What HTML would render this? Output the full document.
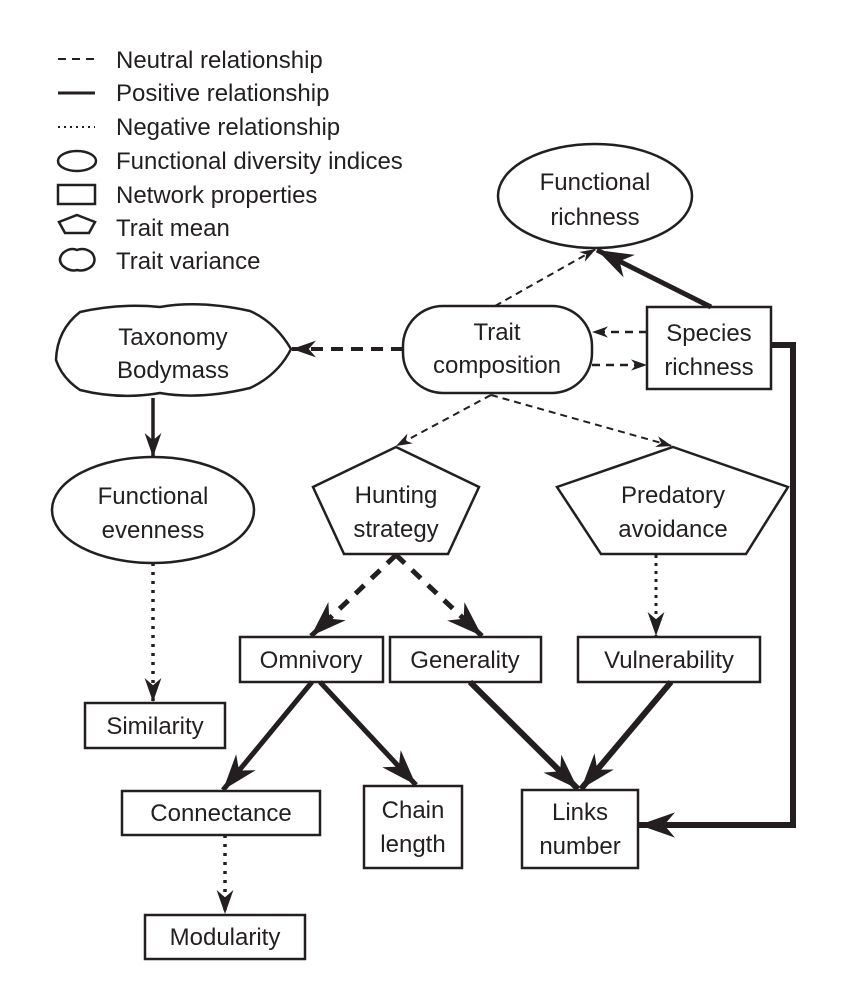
<!DOCTYPE html>
<html><head><meta charset="utf-8"><style>
html,body{margin:0;padding:0;background:#fff}
svg{display:block}
text{font-family:"Liberation Sans",Arial,sans-serif;font-size:24px;fill:#231f20}
</style></head><body>
<svg width="850" height="992" viewBox="0 0 850 992" xmlns="http://www.w3.org/2000/svg">
<defs>
<marker id="s" viewBox="0 0 20 14" refX="20" refY="7" markerWidth="16" markerHeight="12" markerUnits="userSpaceOnUse" orient="auto"><path d="M0,0 L20,7 L0,14 L6,7 z" fill="#231f20"/></marker>
<marker id="m" viewBox="0 0 20 14" refX="20" refY="7" markerWidth="24" markerHeight="20" markerUnits="userSpaceOnUse" orient="auto"><path d="M0,0 L20,7 L0,14 L6,7 z" fill="#231f20"/></marker>
<marker id="b" viewBox="0 0 20 14" refX="20" refY="7" markerWidth="36" markerHeight="30" markerUnits="userSpaceOnUse" orient="auto"><path d="M0,0 L20,7 L0,14 L6,7 z" fill="#231f20"/></marker>
</defs>
<g stroke="#231f20" fill="none">
<line x1="58" y1="59" x2="95" y2="59" stroke-width="2" stroke-dasharray="8,6"/>
<line x1="58" y1="93" x2="95" y2="93" stroke-width="3"/>
<line x1="58" y1="127" x2="95" y2="127" stroke-width="2" stroke-dasharray="2,4"/>
<ellipse cx="77" cy="161" rx="19" ry="10" stroke-width="2.5"/>
<rect x="58" y="185" width="37" height="19" stroke-width="2.5"/>
<path d="M77,215 L95,222 L89,233 L65,233 L59,222 z" stroke-width="2.5"/>
<path d="M63,253 Q70,247 77,250 Q85,247 92,253 Q97,260 92,266 Q85,272 77,270 Q70,272 63,266 Q57,260 63,253 z" stroke-width="2.5"/>

<ellipse cx="595" cy="196" rx="97" ry="52" stroke-width="2.5"/>
<rect x="403" y="306" width="189" height="87" rx="40" stroke-width="2.5"/>
<rect x="647" y="307" width="124" height="82" stroke-width="2.5"/>
<path d="M80,312 Q120,303 160,307 Q200,300 250,311 Q275,322 291,349 Q278,375 250,388 Q200,400 160,393 Q120,400 80,390 Q62,378 56,360 Q57,330 80,312 z" stroke-width="2.5"/>
<ellipse cx="153" cy="510" rx="101" ry="53" stroke-width="2.5"/>
<path d="M396,447 L479,487 L448,554 L344,554 L313,487 z" stroke-width="2.5"/>
<path d="M673,447 L788,487 L746,554 L601,554 L557,487 z" stroke-width="2.5"/>
<rect x="240" y="637" width="143" height="45" stroke-width="2.5"/>
<rect x="390" y="637" width="151" height="45" stroke-width="2.5"/>
<rect x="578" y="637" width="182" height="45" stroke-width="2.5"/>
<rect x="85" y="703" width="140" height="45" stroke-width="2.5"/>
<rect x="122" y="791" width="198" height="44" stroke-width="2.5"/>
<rect x="364" y="786" width="98" height="82" stroke-width="2.5"/>
<rect x="522" y="790" width="116" height="78" stroke-width="2.5"/>
<rect x="145" y="915" width="160" height="44" stroke-width="2.5"/>

<line x1="495" y1="306" x2="596" y2="249" stroke-width="2" stroke-dasharray="7,5" marker-end="url(#s)"/>
<line x1="711" y1="307" x2="597" y2="250" stroke-width="5" marker-end="url(#b)"/>
<line x1="647" y1="332" x2="592" y2="332" stroke-width="2.5" stroke-dasharray="8,6" marker-end="url(#s)"/>
<line x1="592" y1="365" x2="647" y2="365" stroke-width="2.5" stroke-dasharray="8,6" marker-end="url(#s)"/>
<line x1="403" y1="349" x2="292" y2="349" stroke-width="4" stroke-dasharray="12,8" marker-end="url(#m)"/>
<polyline points="771,345 793,345 793,825 639,825" stroke-width="6" marker-end="url(#b)"/>
<line x1="153" y1="398" x2="153" y2="457" stroke-width="3.5" marker-end="url(#m)"/>
<line x1="153" y1="563" x2="153" y2="702" stroke-width="3.5" stroke-dasharray="3,6" marker-end="url(#m)"/>
<line x1="491" y1="395" x2="396" y2="446" stroke-width="2" stroke-dasharray="7,5" marker-end="url(#s)"/>
<line x1="491" y1="395" x2="672" y2="446" stroke-width="2" stroke-dasharray="7,5" marker-end="url(#s)"/>
<line x1="396" y1="555" x2="311" y2="636" stroke-width="5" stroke-dasharray="12,10" marker-end="url(#b)"/>
<line x1="396" y1="555" x2="482" y2="636" stroke-width="5" stroke-dasharray="12,10" marker-end="url(#b)"/>
<line x1="656" y1="555" x2="656" y2="636" stroke-width="3" stroke-dasharray="3,5" marker-end="url(#m)"/>
<line x1="312" y1="682" x2="223" y2="790" stroke-width="5" marker-end="url(#b)"/>
<line x1="320" y1="682" x2="416" y2="785" stroke-width="5" marker-end="url(#b)"/>
<line x1="470" y1="682" x2="578" y2="789" stroke-width="6" marker-end="url(#b)"/>
<line x1="671" y1="682" x2="581" y2="789" stroke-width="6" marker-end="url(#b)"/>
<line x1="225" y1="835" x2="225" y2="914" stroke-width="3.5" stroke-dasharray="3,6" marker-end="url(#m)"/>
</g>

<text x="116" y="68">Neutral relationship</text>
<text x="116" y="101">Positive relationship</text>
<text x="116" y="135">Negative relationship</text>
<text x="116" y="169">Functional diversity indices</text>
<text x="116" y="203">Network properties</text>
<text x="116" y="236">Trait mean</text>
<text x="116" y="269">Trait variance</text>

<g text-anchor="middle">
<text x="595" y="190">Functional</text><text x="595" y="225">richness</text>
<text x="497" y="340">Trait</text><text x="497" y="373">composition</text>
<text x="709" y="341">Species</text><text x="709" y="375">richness</text>
<text x="173" y="345">Taxonomy</text><text x="173" y="378">Bodymass</text>
<text x="153" y="504">Functional</text><text x="153" y="538">evenness</text>
<text x="396" y="503">Hunting</text><text x="396" y="537">strategy</text>
<text x="673" y="503">Predatory</text><text x="673" y="537">avoidance</text>
<text x="311" y="668">Omnivory</text>
<text x="465" y="668">Generality</text>
<text x="669" y="668">Vulnerability</text>
<text x="155" y="734">Similarity</text>
<text x="221" y="821">Connectance</text>
<text x="413" y="818">Chain</text><text x="413" y="852">length</text>
<text x="580" y="820">Links</text><text x="580" y="854">number</text>
<text x="225" y="945">Modularity</text>
</g>
</svg>
</body></html>
